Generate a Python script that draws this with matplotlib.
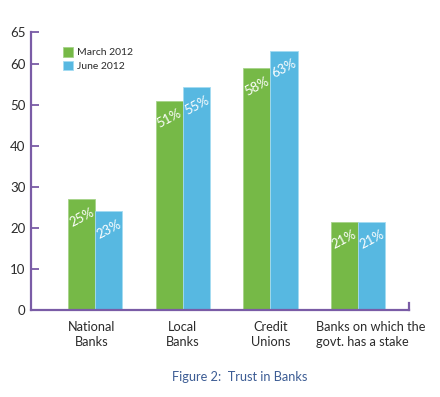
import matplotlib.pyplot as plt
import matplotlib.transforms as mtransforms
import numpy as np

plt.rcParams['font.family'] = ['Lato', 'DejaVu Sans']

categories = ['National\nBanks', 'Local\nBanks', 'Credit\nUnions',
              'Banks on which the\ngovt. has a stake']
march = [27, 51, 59, 21.5]
june = [24, 54.3, 63.2, 21.5]
march_labels = ['25%', '51%', '58%', '21%']
june_labels = ['23%', '55%', '63%', '21%']
series_names = ['March 2012', 'June 2012']

green = '#76b947'
blue = '#57b8e1'
axis_col = '#7a5ca6'
text_col = '#2b2b2b'

fig = plt.figure(figsize=(4.4, 3.97), dpi=100)
ax = fig.add_axes([31 / 440, 87 / 397, (409.3 - 31) / 440, (310 - 31.7) / 397])

x = np.arange(len(categories))
w = 0.31
b1 = ax.bar(x - w / 2, march, w, color=green, edgecolor='#a6d38a', linewidth=0.6,
            label=series_names[0], zorder=2)
b2 = ax.bar(x + w / 2, june, w, color=blue, edgecolor='#a4dbf2', linewidth=0.6,
            label=series_names[1], zorder=2)

for bars, labs in ((b1, march_labels), (b2, june_labels)):
    for bar, lab in zip(bars, labs):
        ax.annotate(lab, (bar.get_x() + bar.get_width() / 2, bar.get_height()),
                    xytext=(0, -13), textcoords='offset points',
                    ha='center', va='center', rotation=28, color='white',
                    fontsize=9.5, zorder=3)

ax.set_xlim(-0.734, 3.585)
ax.set_ylim(0, 67.8)
ax.set_yticks([0, 10, 20, 30, 40, 50, 60, 67.8])
ax.set_yticklabels(['0', '10', '20', '30', '40', '50', '60', '65'])
ax.tick_params(axis='y', direction='in', length=6, width=1.3, color=axis_col,
               labelsize=9.5, labelcolor=text_col, pad=4)
ax.set_xticks(x)
ax.set_xticklabels(categories, linespacing=1.3)
ax.tick_params(axis='x', length=0, labelsize=9.2, labelcolor=text_col, pad=8)
for i, t in enumerate(ax.get_xticklabels()):
    if i == 3:
        t.set_multialignment('left')
        t.set_transform(t.get_transform() +
                        mtransforms.ScaledTranslation(13 / 100, 0, fig.dpi_scale_trans))
    elif i == 0:
        t.set_transform(t.get_transform() +
                        mtransforms.ScaledTranslation(-4 / 100, 0, fig.dpi_scale_trans))

for s in ('top', 'right'):
    ax.spines[s].set_visible(False)
for s in ('left', 'bottom'):
    ax.spines[s].set_color(axis_col)
    ax.spines[s].set_linewidth(1.6)
ax.plot([3.585, 3.585], [0, 1.7], color=axis_col, lw=1.6, clip_on=False)

ax.legend(loc='upper left', bbox_to_anchor=(0.085, 0.945), frameon=False,
          fontsize=7.5, handlelength=0.9, handleheight=1.05, handletextpad=0.4,
          labelspacing=0.3, borderpad=0, borderaxespad=0, labelcolor=text_col)

fig.text(240 / 440, 1 - 377 / 397, 'Figure 2:  Trust in Banks', ha='center',
         va='center', fontsize=9.2, color='#3c5c94')

fig.savefig('out.png', dpi=100)
